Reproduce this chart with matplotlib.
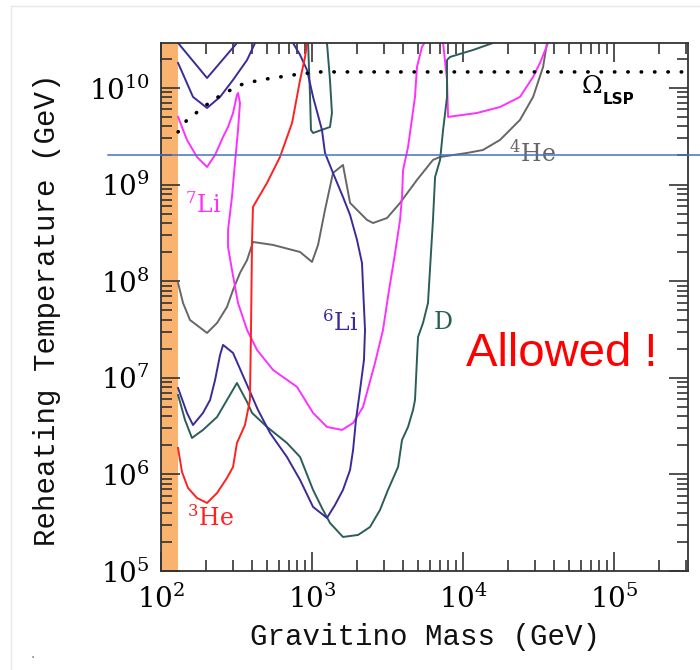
import numpy as np
import matplotlib
matplotlib.use('Agg')
import matplotlib.pyplot as plt
from matplotlib.lines import Line2D
from matplotlib.ticker import LogLocator, NullFormatter

# all values are log10 of GeV
# 3He (red)
he3_m = [2.113, 2.139, 2.179, 2.238, 2.305, 2.371, 2.437, 2.477, 2.503, 2.556, 2.589,
         2.596, 2.603, 2.609, 2.702, 2.788, 2.868, 2.921, 2.954, 2.967]
he3_t = [6.273, 6.025, 5.859, 5.756, 5.704, 5.807, 5.963, 6.077, 6.325, 6.511, 6.770,
         7.495, 8.427, 8.768, 9.017, 9.286, 9.638, 10.083, 10.321, 10.466]

# 7Li (magenta), main branch and the upper right pocket
li7_m = [2.113, 2.172, 2.238, 2.305, 2.358, 2.411, 2.444, 2.477, 2.503, 2.510, 2.523,
         2.510, 2.490, 2.470, 2.444, 2.444, 2.470, 2.510, 2.570, 2.636, 2.742, 2.901,
         3.007, 3.099, 3.199, 3.272, 3.338, 3.417, 3.470, 3.503, 3.550, 3.583, 3.596,
         3.603, 3.636, 3.682, 3.695, 3.728, 3.748]
li7_t = [9.700, 9.462, 9.286, 9.182, 9.306, 9.493, 9.596, 9.741, 9.928, 9.948, 9.845,
         9.565, 9.224, 8.872, 8.530, 8.354, 8.116, 7.774, 7.495, 7.288, 7.081, 6.905,
         6.636, 6.491, 6.460, 6.532, 6.698, 7.153, 7.495, 7.836, 8.292, 8.634, 8.872,
         9.151, 9.389, 9.907, 10.217, 10.424, 10.476]
li7b_m = [3.868, 3.894, 3.901, 4.093, 4.245, 4.377, 4.464, 4.510, 4.563]
li7b_t = [10.466, 10.083, 9.700, 9.741, 9.803, 9.907, 10.114, 10.259, 10.466]

# 6Li (dark blue)
li6_m = [2.113, 2.172, 2.212, 2.278, 2.325, 2.358, 2.391, 2.411, 2.477, 2.570, 2.642,
         2.722, 2.834, 2.921, 3.007, 3.099, 3.152, 3.205, 3.252, 3.272, 3.291, 3.318,
         3.344, 3.351, 3.338, 3.331, 3.298, 3.252, 3.205, 3.139, 3.086, 3.066, 3.007,
         2.967, 2.921, 2.874]
li6_t = [6.894, 6.636, 6.511, 6.636, 6.770, 6.977, 7.236, 7.340, 7.257, 6.925, 6.667,
         6.429, 6.180, 5.942, 5.663, 5.549, 5.683, 5.839, 6.046, 6.253, 6.563, 6.873,
         7.184, 7.495, 7.940, 8.188, 8.427, 8.685, 8.872, 9.120, 9.327, 9.565, 9.907,
         10.186, 10.342, 10.466]
li6a_m = [2.113, 2.305, 2.503]
li6a_t = [10.466, 10.103, 10.466]
li6b_m = [2.113, 2.212, 2.305, 2.391, 2.477, 2.570, 2.623]
li6b_t = [10.259, 9.907, 9.793, 9.907, 10.083, 10.290, 10.466]

# D (dark teal)
d_m = [2.113, 2.159, 2.205, 2.278, 2.371, 2.437, 2.503, 2.570, 2.603, 2.702, 2.834,
       2.921, 3.007, 3.066, 3.119, 3.205, 3.305, 3.384, 3.450, 3.503, 3.570, 3.596,
       3.636, 3.669, 3.682, 3.702, 3.735, 3.768, 3.781, 3.801, 3.815, 3.848, 3.868,
       3.894, 3.894, 3.914, 4.066, 4.199]
d_t = [6.822, 6.563, 6.377, 6.460, 6.594, 6.770, 6.946, 6.749, 6.636, 6.491, 6.325,
       6.180, 5.839, 5.652, 5.497, 5.352, 5.373, 5.455, 5.631, 5.839, 6.077, 6.356,
       6.491, 6.667, 6.770, 7.422, 7.567, 7.774, 8.116, 8.634, 9.079, 9.255, 9.565,
       9.907, 10.290, 10.321, 10.393, 10.466]
db_m = [2.974, 2.987, 2.993, 3.007, 3.119, 3.132, 3.119, 3.099]
db_t = [10.466, 9.907, 9.565, 9.534, 9.596, 9.741, 10.083, 10.466]

# 4He (gray)
he4_m = [2.113, 2.146, 2.192, 2.305, 2.371, 2.437, 2.477, 2.523, 2.570, 2.609, 2.742,
         2.921, 3.000, 3.040, 3.086, 3.139, 3.205, 3.252, 3.364, 3.404, 3.497, 3.583,
         3.695, 3.801, 3.848, 4.026, 4.132, 4.245, 4.377, 4.464, 4.530, 4.556]
he4_t = [7.981, 7.774, 7.598, 7.464, 7.567, 7.733, 7.909, 8.085, 8.219, 8.406, 8.375,
         8.302, 8.199, 8.375, 8.737, 9.120, 9.203, 8.810, 8.634, 8.602, 8.654, 8.810,
         9.048, 9.255, 9.286, 9.327, 9.358, 9.462, 9.669, 9.907, 10.217, 10.466]

# Omega_LSP (dotted)
lsp_m = [2.113, 2.172, 2.258, 2.344, 2.437, 2.523, 2.656, 2.788, 2.921, 3.053, 5.490]
lsp_t = [9.545, 9.669, 9.772, 9.876, 9.959, 10.031, 10.083, 10.114, 10.145, 10.166, 10.166]

band_max = 130.0        # excluded gravitino mass band (GeV)
t_line = 2.04e9         # horizontal reference line (GeV)

plt.rcParams['font.family'] = 'DejaVu Serif'
plt.rcParams['mathtext.fontset'] = 'dejavuserif'

fig = plt.figure(figsize=(7, 6.7), dpi=100)
ax = fig.add_axes([0.2300, 0.1478, 0.7529, 0.7881])

ax.axvspan(100, band_max, color='#f9b36f', lw=0, zorder=0)

red = '#ff2020'
mag = '#ff30ff'
blue = '#3a2c98'
teal = '#2c5e58'
gray = '#666666'
lw = 1.4

def curve(m, t, c, **kw):
    ax.plot(10 ** np.array(m), 10 ** np.array(t), color=c, lw=lw, **kw)

curve(he4_m, he4_t, gray)
curve(li7_m, li7_t, mag)
curve(li7b_m, li7b_t, mag)
curve(d_m, d_t, teal)
curve(db_m, db_t, teal)
curve(li6_m, li6_t, blue)
curve(li6a_m, li6a_t, blue)
curve(li6b_m, li6b_t, blue)
curve(he3_m, he3_t, red)
ax.plot(10 ** np.array(lsp_m), 10 ** np.array(lsp_t), color='black', lw=2.6,
        linestyle=(0, (0.1, 3.6)), dash_capstyle='round')

ax.axhline(t_line, xmin=-0.1006, xmax=1.0228, color='#4472c4', lw=1.1,
           clip_on=False, zorder=5)

ax.set_xscale('log')
ax.set_yscale('log')
ax.set_xlim(100, 10 ** 5.490)
ax.set_ylim(1e5, 10 ** 10.466)
for a in (ax.xaxis, ax.yaxis):
    a.set_major_locator(LogLocator(base=10, numticks=20))
    a.set_minor_locator(LogLocator(base=10, subs=np.arange(2, 10), numticks=100))
    a.set_minor_formatter(NullFormatter())

ax.tick_params(which='both', direction='in', top=True, right=True,
               color='#333333', width=1.2)
ax.tick_params(which='major', length=14, pad=8, labelsize=20)
ax.tick_params(axis='x', which='major', pad=10)
ax.tick_params(which='minor', length=8)
for s in ax.spines.values():
    s.set_color('#333333')
    s.set_linewidth(1.3)

ax.set_xlabel('Gravitino Mass (GeV)', family='Liberation Mono', fontsize=21,
              color='#111111')
ax.set_ylabel('Reheating Temperature (GeV)', family='Liberation Mono', fontsize=21,
              color='#111111')
ax.xaxis.label.set_va('center')
ax.yaxis.label.set_va('center')
ax.xaxis.set_label_coords(0.5, -0.125)
ax.yaxis.set_label_coords(-0.216, 0.494)

lab = dict(fontsize=17, ha='center', va='center')
ax.text(10 ** 2.278, 10 ** 8.789, r'$^{7}$Li', color=mag, **lab)
ax.text(10 ** 2.325, 10 ** 5.549, r'$^{3}$He', color=red, **lab)
ax.text(10 ** 3.185, 10 ** 7.567, r'$^{6}$Li', color=blue, **lab)
ax.text(10 ** 3.868, 10 ** 7.567, 'D', color=teal, **lab)
ax.text(10 ** 4.457, 10 ** 9.327, r'$^{4}$He', color=gray, **lab)
ax.text(10 ** 4.854, 10 ** 10.010, '\u03a9', color='black', fontsize=18,
        ha='center', va='center')
ax.text(10 ** 4.925, 10 ** 9.885, 'LSP', color='black', fontsize=11,
        family='DejaVu Sans', weight='bold', ha='left', va='center')

ax.text(10 ** 4.656, 10 ** 7.246, 'Allowed !', color='red', fontsize=34,
        family='Liberation Sans', ha='center', va='center')

# faint frame and stray dot of the original slide
fig.add_artist(Line2D([11 / 700, 11 / 700], [0, 1 - 6 / 670], color='#e8e8e8', lw=1))
fig.add_artist(Line2D([11 / 700, 1], [1 - 6 / 670, 1 - 6 / 670], color='#e8e8e8', lw=1))
fig.text(33 / 700, 1 - 658 / 670, '\u00b7', color='#777777', fontsize=10,
         ha='center', va='center')

fig.savefig('out.png', dpi=100)
